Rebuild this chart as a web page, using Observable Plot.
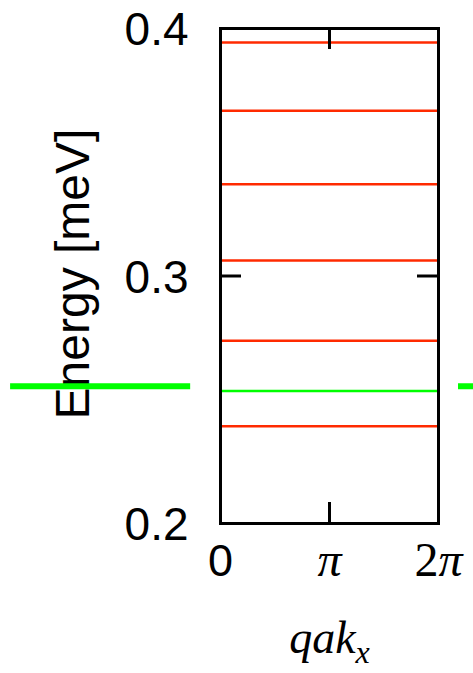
<!DOCTYPE html>
<html><head><meta charset="utf-8">
<script src="https://cdn.jsdelivr.net/npm/d3@7"></script>
<script src="https://cdn.jsdelivr.net/npm/@observablehq/plot@0.6"></script>
<style>body{margin:0;background:#fff} svg{display:block}</style>
</head><body><div id="chart"></div>
<script>
const PI = Math.PI;
const xDomain = [0, 2 * PI];
const yDomain = [0.2, 0.4];
const xTicks = [0, PI, 2 * PI];
const xTickLabels = ["0", "π", "2π"];
const yTicks = [0.2, 0.3, 0.4];
const redLevels = [0.3943, 0.3668, 0.3371, 0.3063, 0.2738, 0.2393];
const greenLevels = [0.2535];
const greenOutsideX1 = [-6.05, 6.86];
const greenOutsideX2 = [-0.86, 7.8];
const greenOutsideY = [0.2555, 0.2555];
const yLabel = "Energy [meV]";
const xLabel = "qak";
const xLabelSub = "x";

const W = 473, H = 673, ML = 220, MR = 35, MT = 28, MB = 150;
const innerH = H - MT - MB, innerW = W - ML - MR;
const TICK = 21;
const SANS = "'Liberation Sans', Arial, Helvetica, sans-serif";
const SERIF = "'Liberation Serif', 'Times New Roman', serif";

const greenOutside = greenOutsideX1.map((x1, i) => ({x1, x2: greenOutsideX2[i], y: greenOutsideY[i]}));
const xTickTable = xTicks.map((x, i) => ({x, label: xTickLabels[i]}));

const chart = Plot.plot({
  width: W, height: H,
  marginLeft: ML, marginRight: MR, marginTop: MT, marginBottom: MB,
  x: {domain: xDomain, axis: null},
  y: {domain: yDomain, axis: null},
  marks: [
    Plot.ruleY(redLevels, {y: d => d, stroke: "#ff2a00", strokeWidth: 2.5}),
    Plot.ruleY(greenLevels, {y: d => d, stroke: "#00ff00", strokeWidth: 2.5}),
    Plot.ruleX(xTicks, {x: d => d, insetTop: innerH - TICK, stroke: "black", strokeWidth: 3}),
    Plot.ruleX(xTicks, {x: d => d, insetBottom: innerH - TICK, stroke: "black", strokeWidth: 3}),
    Plot.ruleY(yTicks, {y: d => d, insetRight: innerW - TICK, stroke: "black", strokeWidth: 3}),
    Plot.ruleY(yTicks, {y: d => d, insetLeft: innerW - TICK, stroke: "black", strokeWidth: 3}),
    Plot.frame({stroke: "black", strokeWidth: 3}),
    Plot.text(yTicks, {y: d => d, frameAnchor: "left", text: d => d3.format(".1f")(d), textAnchor: "end", dx: -32, dy: 2, fontSize: 46, fontFamily: SANS, fill: "black"}),
    Plot.text(xTickTable.filter(d => d.label === "0"), {x: "x", text: "label", frameAnchor: "bottom", textAnchor: "middle", dy: 52, fontSize: 45, fontFamily: SANS, fill: "black"}),
    Plot.text(xTickTable.filter(d => d.label !== "0"), {x: "x", text: "label", frameAnchor: "bottom", textAnchor: "middle", dy: 52, fontSize: 48, fontStyle: "italic", fontFamily: SERIF, fill: "black"}),
    Plot.text([yLabel], {frameAnchor: "left", textAnchor: "middle", rotate: -90, dx: -147, dy: -2, fontSize: 48, fontFamily: SANS, fill: "black"}),
    Plot.text([xLabel], {frameAnchor: "bottom", textAnchor: "middle", dy: 129, fontSize: 46, fontStyle: "italic", fontFamily: SERIF, fill: "black"}),
    Plot.ruleY(greenOutside, {x1: "x1", x2: "x2", y: "y", stroke: "#00ff00", strokeWidth: 6})
  ]
});

const svg = d3.select(chart);
svg.selectAll("text").filter(function() { return this.textContent === "2π"; }).each(function() {
  const t = d3.select(this);
  t.text(null);
  t.append("tspan").attr("font-style", "normal").text("2");
  t.append("tspan").attr("font-style", "italic").text("π");
});
svg.selectAll("text").filter(function() { return this.textContent === xLabel; }).each(function() {
  d3.select(this).append("tspan").attr("font-size", 32).attr("dy", 10).text(xLabelSub);
});

document.getElementById("chart").append(chart);
</script>
</body></html>
